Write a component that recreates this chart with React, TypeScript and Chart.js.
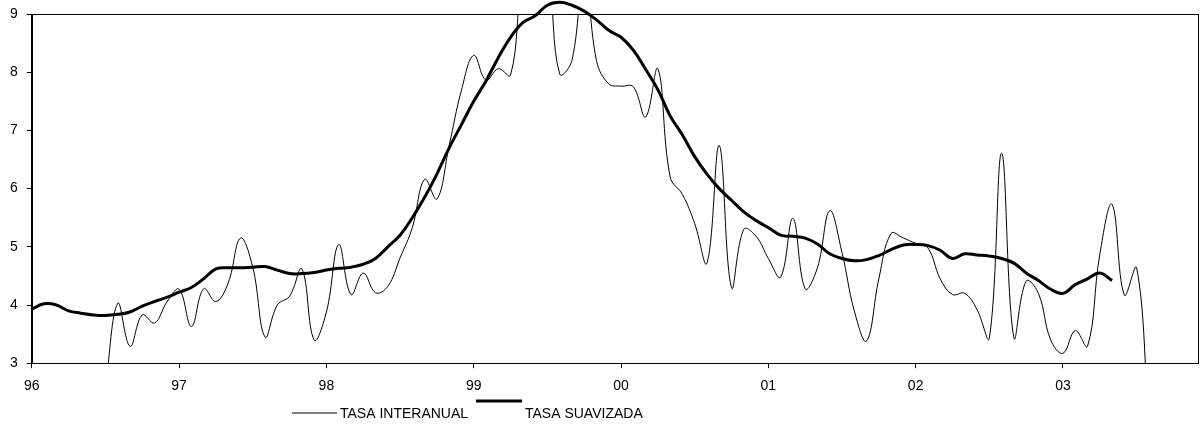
import React, { useEffect, useRef } from 'react';
import { Chart, registerables } from 'chart.js';

Chart.register(...registerables);

// ---- data ----
const yearLabels: string[] = ['96', '97', '98', '99', '00', '01', '02', '03'];
const monthsPerYear = 12;
const categories: string[] = yearLabels.flatMap((y) =>
  Array.from({ length: monthsPerYear }, (_, m) => `${y}-${String(m + 1).padStart(2, '0')}`)
);

const seriesNames: string[] = ['TASA INTERANUAL', 'TASA SUAVIZADA'];

// year-on-year rate, monthly (Jan 96 .. Dec 03)
const tasaInteranual: (number | null)[] = [
  null, null, null, null, null, null, 2.6, 4.03, 3.29, 3.83, 3.69, 4.05,
  4.27, 3.63, 4.28, 4.06, 4.38, 5.15, 4.65, 3.45, 4.0, 4.15, 4.62, 3.4,
  3.88, 5.04, 4.18, 4.55, 4.21, 4.32, 4.81, 5.33, 6.16, 5.82, 6.74, 7.69,
  8.29, 7.86, 8.06, 7.95, 9.6, 10.0, 9.7, 7.97, 8.2, 9.8, 8.2, 7.8,
  7.76, 7.75, 7.23, 8.06, 6.2, 5.9, 5.4, 4.72, 6.74, 4.3, 5.3, 5.18,
  4.8, 4.48, 5.49, 4.28, 4.64, 5.62, 4.9, 3.9, 3.38, 4.45, 5.23, 5.15,
  5.06, 4.98, 4.45, 4.18, 4.2, 3.92, 3.43, 6.61, 3.44, 4.41, 4.2, 3.4,
  3.17, 3.56, 3.29, 4.87, 5.73, 4.17, 4.64, 2.0, null, null, null, null,
];

// smoothed rate
const tasaSuavizada: (number | null)[] = [
  3.93, 4.02, 4.0, 3.9, 3.86, 3.83, 3.82, 3.84, 3.88, 3.98, 4.06, 4.13,
  4.22, 4.3, 4.45, 4.62, 4.64, 4.64, 4.65, 4.66, 4.6, 4.54, 4.54, 4.56,
  4.6, 4.63, 4.65, 4.7, 4.8, 5.0, 5.2, 5.5, 5.85, 6.25, 6.7, 7.1,
  7.5, 7.85, 8.25, 8.6, 8.85, 8.97, 9.15, 9.2, 9.15, 9.05, 8.9, 8.72,
  8.6, 8.38, 8.05, 7.7, 7.25, 6.92, 6.55, 6.25, 6.0, 5.8, 5.6, 5.45,
  5.33, 5.2, 5.18, 5.15, 5.05, 4.88, 4.8, 4.76, 4.78, 4.85, 4.95, 5.03,
  5.04, 5.02, 4.94, 4.8, 4.88, 4.86, 4.84, 4.8, 4.72, 4.55, 4.42, 4.27,
  4.2, 4.35, 4.45, 4.55, 4.42, null, null, null, null, null, null, null,
];

const yMin = 3;
const yMax = 9;
const yStep = 1;

const FONT = '"Liberation Sans", Arial, sans-serif';

const framePlugin = {
  id: 'frame',
  afterDraw(chart: any) {
    const { ctx, chartArea } = chart;
    ctx.save();
    ctx.strokeStyle = '#000';
    ctx.lineWidth = 1;
    ctx.strokeRect(
      Math.round(chartArea.left) + 0.5,
      Math.round(chartArea.top) + 0.5,
      Math.round(chartArea.right - chartArea.left),
      Math.round(chartArea.bottom - chartArea.top)
    );
    ctx.restore();
  },
};

const legendPlugin = {
  id: 'customLegend',
  afterDraw(chart: any, _args: any, opts: any) {
    const { ctx } = chart;
    const items = opts.items || [];
    ctx.save();
    ctx.font = `14px ${FONT}`;
    ctx.fillStyle = '#000';
    ctx.textBaseline = 'middle';
    ctx.textAlign = 'left';
    items.forEach((it: any, i: number) => {
      const ds = chart.data.datasets[i];
      ctx.strokeStyle = ds.borderColor;
      ctx.lineWidth = ds.borderWidth;
      ctx.beginPath();
      ctx.moveTo(it.x0, it.ly);
      ctx.lineTo(it.x1, it.ly);
      ctx.stroke();
      ctx.fillText(ds.label, it.tx, it.ty);
    });
    ctx.restore();
  },
};

export default function App() {
  const ref = useRef<HTMLCanvasElement | null>(null);

  useEffect(() => {
    document.body.style.margin = '0';
    if (!ref.current) return;
    const chart = new Chart(ref.current, {
      type: 'line',
      data: {
        labels: categories,
        datasets: [
          {
            label: seriesNames[0],
            data: tasaInteranual,
            borderColor: '#000',
            borderWidth: 1,
            pointRadius: 0,
            tension: 0.4,
            fill: false,
            spanGaps: false,
          },
          {
            label: seriesNames[1],
            data: tasaSuavizada,
            borderColor: '#000',
            borderWidth: 3,
            pointRadius: 0,
            tension: 0.4,
            fill: false,
            spanGaps: false,
            clip: false,
          },
        ],
      },
      options: {
        responsive: false,
        animation: false,
        layout: { padding: { left: 1, right: 2, top: 14, bottom: 27 } },
        plugins: {
          legend: { display: false },
          tooltip: { enabled: false },
          customLegend: {
            items: [
              { x0: 292, x1: 337, ly: 413, tx: 340, ty: 414 },
              { x0: 476, x1: 522, ly: 401, tx: 525, ty: 414 },
            ],
          },
        } as any,
        scales: {
          x: {
            type: 'category',
            offset: false,
            afterFit: (scale: any) => {
              scale.paddingLeft = 0;
              scale.paddingRight = 0;
            },
            grid: {
              drawOnChartArea: false,
              drawTicks: true,
              tickLength: 5,
              color: (ctx: any) => (ctx.index % monthsPerYear === 0 ? '#000' : 'rgba(0,0,0,0)'),
            },
            border: { display: true, color: '#000' },
            ticks: {
              autoSkip: false,
              maxRotation: 0,
              minRotation: 0,
              padding: 10,
              color: '#000',
              font: { family: FONT, size: 14 },
              callback: (_v: any, i: number) =>
                i % monthsPerYear === 0 ? yearLabels[i / monthsPerYear] : '',
            },
          },
          y: {
            min: yMin,
            max: yMax,
            afterFit: (scale: any) => {
              scale.paddingTop = 8;
              scale.paddingBottom = 8;
            },
            grid: { drawOnChartArea: false, drawTicks: true, tickLength: 5, color: '#000' },
            border: { display: true, color: '#000' },
            ticks: {
              stepSize: yStep,
              padding: 9,
              color: '#000',
              font: { family: FONT, size: 14 },
            },
          },
        },
      },
      plugins: [framePlugin, legendPlugin],
    });
    return () => chart.destroy();
  }, []);

  return (
    <div style={{ width: 1200, height: 432 }}>
      <canvas ref={ref} width={1200} height={432} />
    </div>
  );
}
